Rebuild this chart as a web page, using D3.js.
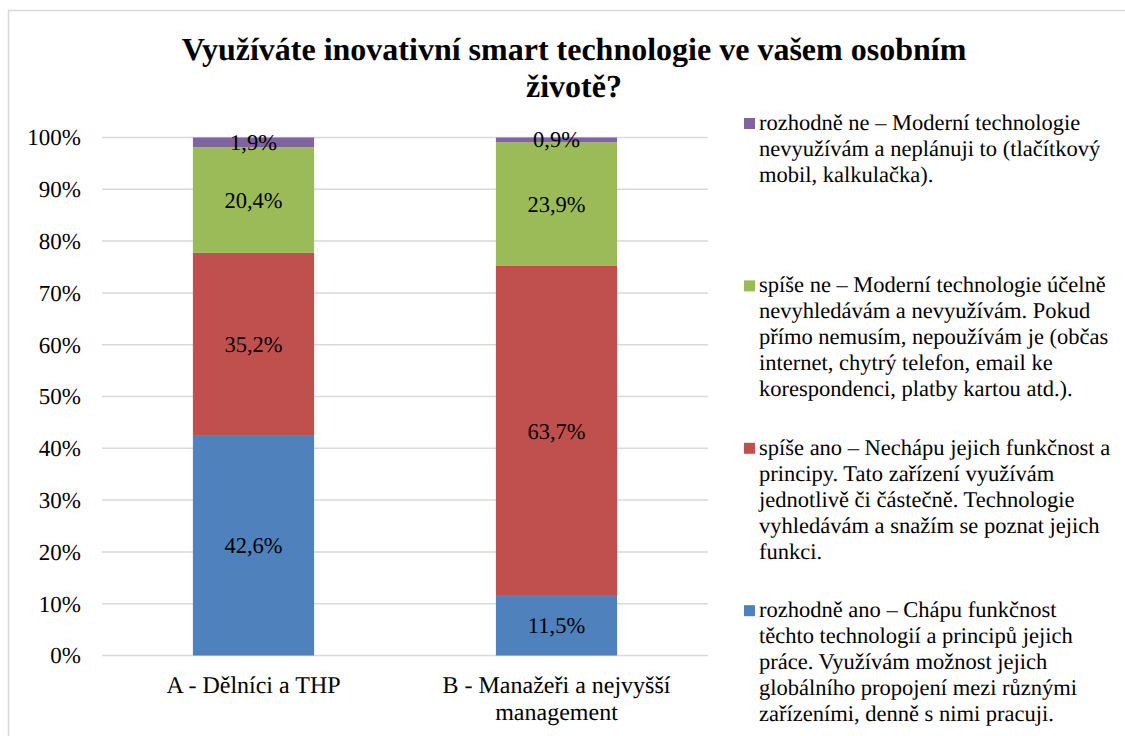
<!DOCTYPE html>
<html><head><meta charset="utf-8">
<script src="https://cdn.jsdelivr.net/npm/d3@7"></script>
<style>body{margin:0;background:#fff}svg{display:block}text{font-family:"Liberation Serif","Times New Roman",serif;text-rendering:geometricPrecision}</style>
</head><body>
<svg id="c" width="1125" height="736"></svg>
<script>
const categories = [["A - Dělníci a THP"], ["B - Manažeři a nejvyšší", "management"]];
const seriesNames = ["rozhodně ano", "spíše ano", "spíše ne", "rozhodně ne"];
const rozhodneAno = [42.6, 11.5];
const spiseAno = [35.2, 63.7];
const spiseNe = [20.4, 23.9];
const rozhodneNe = [1.9, 0.9];
const yTicks = [0, 10, 20, 30, 40, 50, 60, 70, 80, 90, 100];
const colors = ["#4F81BD", "#C0504D", "#9BBB59", "#8064A2"];
const legendLines = [
  ["rozhodně ano – Chápu funkčnost", "těchto technologií a principů jejich", "práce. Využívám možnost jejich", "globálního propojení mezi různými", "zařízeními, denně s nimi pracuji."],
  ["spíše ano – Nechápu jejich funkčnost a", "principy. Tato zařízení využívám", "jednotlivě či částečně. Technologie", "vyhledávám a snažím se poznat jejich", "funkci."],
  ["spíše ne – Moderní technologie účelně", "nevyhledávám a nevyužívám. Pokud", "přímo nemusím, nepoužívám je (občas", "internet, chytrý telefon, email ke", "korespondenci, platby kartou atd.)."],
  ["rozhodně ne – Moderní technologie", "nevyužívám a neplánuji to (tlačítkový", "mobil, kalkulačka)."]
];
const titleLines = ["Využíváte inovativní smart technologie ve vašem osobním", "životě?"];

const series = [rozhodneAno, spiseAno, spiseNe, rozhodneNe];
const font = '"Liberation Serif", "Times New Roman", serif';
const svg = d3.select("#c");

// outer border
svg.append("rect").attr("x", 8.5).attr("y", 10.5).attr("width", 1125).attr("height", 740)
  .attr("fill", "#fff").attr("stroke", "#D9D9D9").attr("stroke-width", 1.5);

// title
svg.append("g").selectAll("text").data(titleLines).join("text")
  .attr("x", 574).attr("y", (d, i) => 60 + i * 37)
  .attr("text-anchor", "middle").style("font-family", font).attr("font-weight", "bold")
  .attr("font-size", 32).attr("fill", "#000").text(d => d);

const x0 = 102, x1 = 708;
const y = d3.scaleLinear().domain([0, 100]).range([655.5, 137.5]);
const x = d3.scaleBand().domain(categories.map(c => c.join(" "))).range([x0, x1]).padding(0);
const barW = x.bandwidth() * 0.4;

// gridlines
svg.append("g").selectAll("line").data(yTicks).join("line")
  .attr("x1", x0).attr("x2", x1).attr("y1", d => y(d)).attr("y2", d => y(d))
  .attr("stroke", "#D9D9D9").attr("stroke-width", 1.5);

// y tick labels
svg.append("g").selectAll("text").data(yTicks).join("text")
  .attr("x", 81).attr("y", d => y(d)).attr("dy", "0.34em").attr("text-anchor", "end")
  .style("font-family", font).attr("font-size", 23).attr("fill", "#000")
  .text(d => d + "%");

// stacked normalized
const stackData = categories.map((c, i) => {
  const total = series.reduce((s, arr) => s + arr[i], 0);
  let acc = 0;
  return series.map((arr, k) => {
    const v0 = acc / total * 100; acc += arr[i];
    return { cat: c.join(" "), k, v: arr[i], y0: v0, y1: acc / total * 100 };
  });
}).flat();

const g = svg.append("g");
g.selectAll("rect").data(stackData).join("rect")
  .attr("x", d => x(d.cat) + (x.bandwidth() - barW) / 2)
  .attr("width", barW)
  .attr("y", d => y(d.y1)).attr("height", d => y(d.y0) - y(d.y1))
  .attr("fill", d => colors[d.k]);

g.selectAll("text").data(stackData).join("text")
  .attr("x", d => x(d.cat) + x.bandwidth() / 2)
  .attr("y", d => y((d.y0 + d.y1) / 2)).attr("dy", "0.34em")
  .attr("text-anchor", "middle").style("font-family", font).attr("font-size", 22.5).attr("fill", "#000")
  .text(d => d3.format(".1f")(d.v).replace(".", ",") + "%");

// category labels
const cl = svg.append("g").selectAll("text").data(categories).join("text")
  .attr("text-anchor", "middle").style("font-family", font).attr("font-size", 24).attr("fill", "#000");
cl.selectAll("tspan").data(d => d.map(t => ({ t, c: d.join(" ") }))).join("tspan")
  .attr("x", d => x(d.c) + x.bandwidth() / 2)
  .attr("y", (d, i) => 693 + i * 27).text(d => d.t);

// legend
const legendOrder = [3, 2, 1, 0];
const lg = svg.append("g").selectAll("g").data(legendOrder).join("g")
  .attr("transform", (d, i) => `translate(0,${130 + i * 162.4})`);
lg.append("rect").attr("x", 744).attr("y", -12).attr("width", 11).attr("height", 11)
  .attr("fill", d => colors[d]);
lg.append("text").style("font-family", font).attr("font-size", 22.5).attr("fill", "#000")
  .selectAll("tspan").data(d => legendLines[d]).join("tspan")
  .attr("x", 759).attr("y", (d, i) => i * 26).text(d => d);
</script>
</body></html>
